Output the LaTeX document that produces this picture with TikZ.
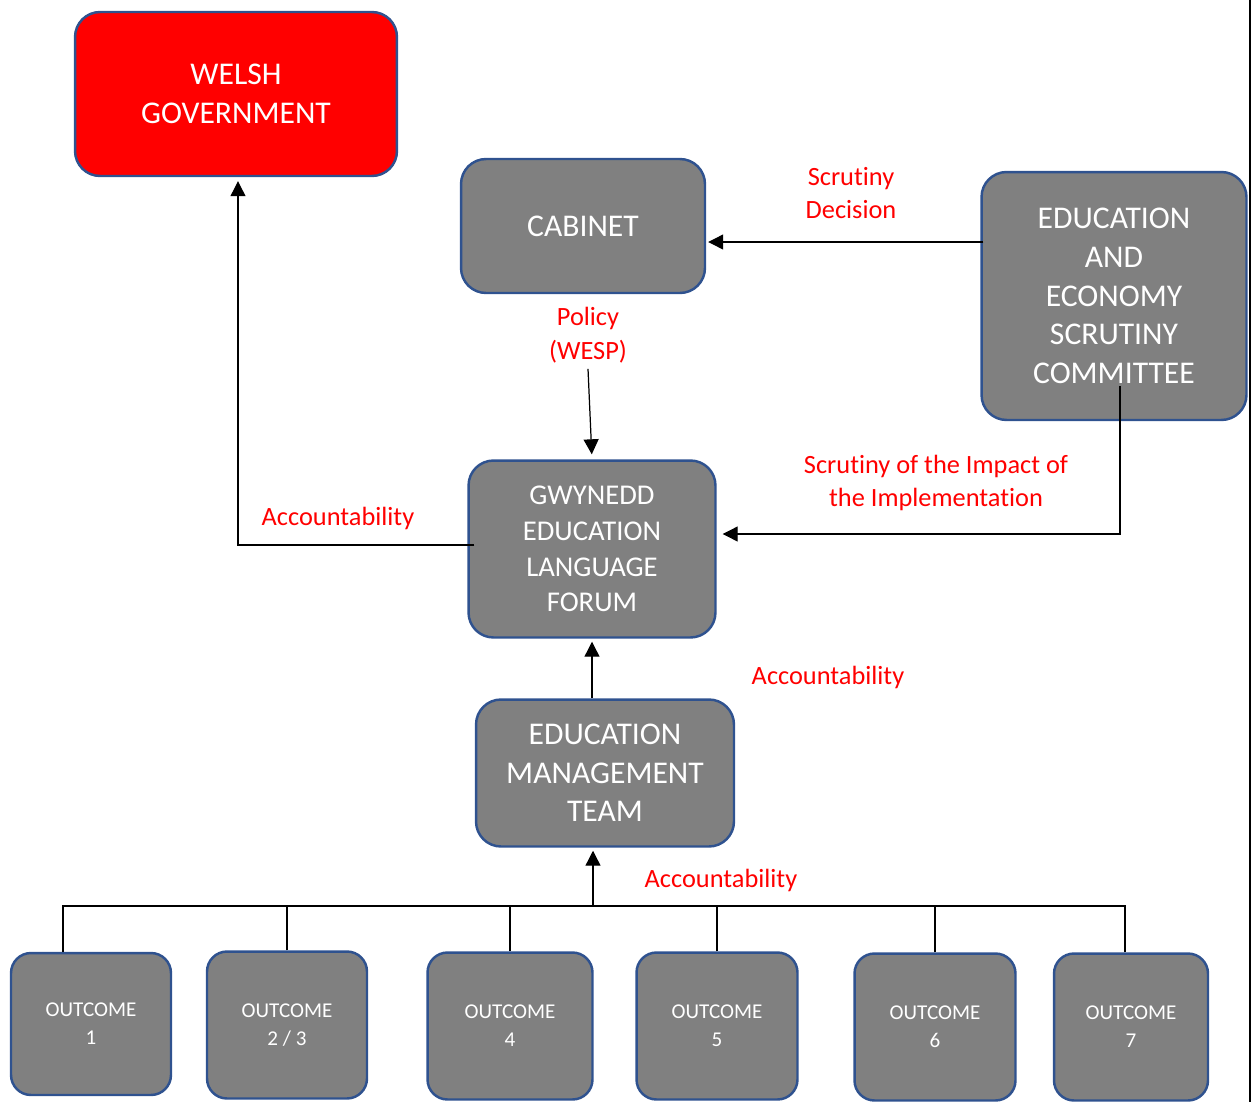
\documentclass[tikz,border=0pt]{standalone}
\usepackage{fontspec}
\setmainfont{Carlito}[Ligatures=NoCommon]
\usetikzlibrary{arrows.meta,calc}
\definecolor{boxgrey}{RGB}{128,128,128}
\definecolor{boxedge}{RGB}{47,82,143}
\definecolor{govred}{RGB}{255,0,0}
\tikzset{
  unit/.style={draw=boxedge, line width=1.4pt, fill=boxgrey, rounded corners=0.5cm,
    text=white, align=center, inner sep=0pt, font=\fontsize{18}{22}\selectfont},
  outcome/.style={unit, rounded corners=0.4cm, minimum width=3.2cm,
    minimum height=2.94cm, font=\fontsize{12}{16}\selectfont},
  lbl/.style={text=red, align=center, font=\fontsize{15}{19}\selectfont},
  link/.style={line width=0.7pt},
  arr/.style={link, -{Triangle[length=0.3cm,width=0.3cm]}}
}
\begin{document}
\begin{tikzpicture}[x=0.02cm,y=-0.02cm]
  \useasboundingbox (0,0) rectangle (1253,1102);
  \draw
    (236,94) node[unit, fill=govred, minimum width=6.44cm, minimum height=3.28cm] (wg) {WELSH\\GOVERNMENT}
    (583,226) node[unit, minimum width=4.88cm, minimum height=2.68cm] (cab) {CABINET}
    (1114,296) node[unit, minimum width=5.3cm, minimum height=4.96cm] (eesc) {EDUCATION\\AND\\ECONOMY\\SCRUTINY\\COMMITTEE}
    (592,549) node[unit, minimum width=4.94cm, minimum height=3.54cm, font=\fontsize{16.3}{20.4}\selectfont] (gelf) {GWYNEDD\\EDUCATION\\LANGUAGE\\FORUM}
    (605,773) node[unit, minimum width=5.16cm, minimum height=2.94cm] (emt) {EDUCATION\\MANAGEMENT\\TEAM};
  % outcomes
  \draw
    (91,1024) node[outcome, minimum height=2.84cm] (o1) {OUTCOME\\1}
    (287,1025) node[outcome] (o23) {OUTCOME\\2 / 3}
    (510,1026) node[outcome, minimum width=3.3cm] (o4) {OUTCOME\\4}
    (717,1026) node[outcome, minimum width=3.22cm] (o5) {OUTCOME\\5}
    (935,1027) node[outcome, minimum width=3.22cm] (o6) {OUTCOME\\6}
    (1131,1027) node[outcome, minimum width=3.08cm] (o7) {OUTCOME\\7};
  % labels
  \draw
    (338,518) node[lbl] (acc1) {Accountability}
    (851,193) node[lbl] (scr) {Scrutiny\\Decision}
    (588,335) node[lbl] (pol) {Policy\\(WESP)}
    (936,483) node[lbl] (imp) {Scrutiny of the Impact of\\the Implementation}
    (828,677) node[lbl] (acc2) {Accountability}
    (721,880) node[lbl] (acc3) {Accountability};
  \coordinate (bus) at (593,906);
  \begin{scope}
    \draw[arr] ($(gelf.west)+(7,-4)$) -| ($(wg.south)+(2,4)$);
    \draw[arr] ($(eesc.west)+(3,-54)$) -- ($(cab.east)+(2,16)$);
    \draw[arr, shorten >=0.1cm] (pol.south) -- (gelf.north);
    \draw[arr] ($(eesc.south)+(6,-35)$) |- ($(gelf.east)+(6,-15)$);
    \draw[arr, shorten >=0.06cm] (emt.north -| gelf.south) -- (gelf.south);
    \draw[arr] (bus) -- ($(emt.south -| bus)+(0,3)$);
    \draw[link] ($(o1.north)+(-28,0)$) |- (bus);
    \draw[link] ($(o7.north)+(-6,0)$) |- (bus);
    \foreach \o in {o23,o4,o5,o6}
      \draw[link] (\o.north) |- (bus);
  \end{scope}
  \draw[line width=1.2pt] (1250,0) -- (1250,1102);
\end{tikzpicture}
\end{document}
